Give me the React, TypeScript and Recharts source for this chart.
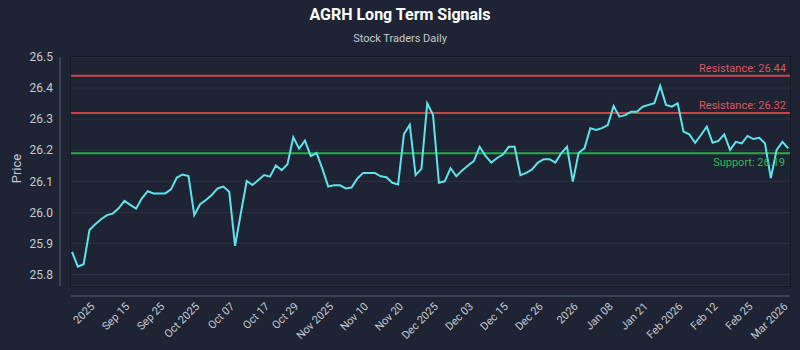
import React from 'react';
import { LineChart, Line, XAxis, YAxis, CartesianGrid, ReferenceLine, usePlotArea } from 'recharts';

const TITLE = 'AGRH Long Term Signals';
const SUBTITLE = 'Stock Traders Daily';
const Y_LABEL = 'Price';

const prices = [
  25.873, 25.825, 25.833, 25.943, 25.962, 25.978, 25.991, 25.996, 26.013, 26.037,
  26.024, 26.012, 26.045, 26.068, 26.061, 26.061, 26.061, 26.074, 26.112, 26.122,
  26.117, 25.991, 26.026, 26.040, 26.056, 26.077, 26.083, 26.066, 25.892, 25.998,
  26.101, 26.088, 26.104, 26.120, 26.115, 26.151, 26.136, 26.155, 26.242, 26.205,
  26.231, 26.181, 26.191, 26.140, 26.083, 26.087, 26.087, 26.077, 26.080, 26.109,
  26.127, 26.127, 26.127, 26.116, 26.113, 26.095, 26.090, 26.252, 26.282, 26.120,
  26.140, 26.351, 26.313, 26.095, 26.100, 26.142, 26.116, 26.135, 26.151, 26.165,
  26.211, 26.182, 26.160, 26.175, 26.186, 26.211, 26.211, 26.120, 26.127, 26.138,
  26.160, 26.171, 26.171, 26.160, 26.190, 26.211, 26.099, 26.192, 26.206, 26.271,
  26.265, 26.271, 26.281, 26.342, 26.308, 26.313, 26.324, 26.324, 26.340, 26.346,
  26.351, 26.407, 26.346, 26.340, 26.351, 26.260, 26.251, 26.224, 26.249, 26.276,
  26.224, 26.230, 26.251, 26.201, 26.227, 26.222, 26.246, 26.236, 26.240, 26.222,
  26.110, 26.201, 26.227, 26.206,
];

const tickIndices = [4, 10, 16, 22, 28, 34, 39, 45, 51, 57, 63, 69, 75, 81, 87, 93, 99, 105, 111, 117, 123];
const tickLabels = [
  '2025', 'Sep 15', 'Sep 25', 'Oct 2025', 'Oct 07', 'Oct 17', 'Oct 29', 'Nov 2025', 'Nov 10', 'Nov 20',
  'Dec 2025', 'Dec 03', 'Dec 15', 'Dec 26', '2026', 'Jan 08', 'Jan 21', 'Feb 2026', 'Feb 12', 'Feb 25', 'Mar 2026',
];
const yTicks = [25.8, 25.9, 26.0, 26.1, 26.2, 26.3, 26.4, 26.5];
const yDomain = [25.763, 26.5];
const resistanceLevels = [26.44, 26.32];
const supportLevels = [26.19];

const data = prices.map((price, i) => ({ i, price }));
const labelByIndex = new Map<number, string>(tickIndices.map((idx, k) => [idx, tickLabels[k]]));

const BG = '#1e2433';
const GRID = '#2a3242';
const AXIS = '#596070';
const TEXT = '#c5cad3';
const LINE = '#5fe3ea';
const RES = '#c8454d';
const RES_TEXT = '#db5860';
const SUP = '#2fa650';
const SUP_TEXT = '#38b55a';

function XTick(props: any) {
  const { x, y, payload } = props;
  const label = labelByIndex.get(payload.value) ?? '';
  const tx = x;
  const ty = y + 13;
  return (
    <text x={tx} y={ty} transform={`rotate(-45, ${tx}, ${ty})`} textAnchor="end" fill={TEXT} fontSize={11}>
      {label}
    </text>
  );
}

function Frame() {
  const a = usePlotArea();
  if (!a) return null;
  const { x, y, width, height } = a;
  return (
    <g>
      <rect x={x - 0.5} y={y - 0.5} width={width + 1} height={height + 1} fill="none" stroke="#141923" strokeWidth={1} />
      <line x1={x - 11} x2={x - 11} y1={y} y2={y + height} stroke={AXIS} strokeWidth={1} />
      <line x1={x} x2={x + width} y1={y + height + 10} y2={y + height + 10} stroke={AXIS} strokeWidth={1} />
      <text
        x={16}
        y={y + height / 2 - 3}
        transform={`rotate(-90, 16, ${y + height / 2 - 3})`}
        textAnchor="middle"
        dominantBaseline="central"
        fill={TEXT}
        fontSize={13}
      >
        {Y_LABEL}
      </text>
    </g>
  );
}

export default function App() {
  return (
    <div
      style={{
        position: 'absolute',
        left: 0,
        top: 0,
        width: 800,
        height: 350,
        background: BG,
        fontFamily: 'Roboto, "Noto Sans", sans-serif',
      }}
    >
      <svg width={800} height={50} style={{ position: 'absolute', left: 0, top: 0 }}>
        <text x={400} y={19.5} textAnchor="middle" fill="#ffffff" fontSize={16} fontWeight="bold">
          {TITLE}
        </text>
        <text x={400} y={41.5} textAnchor="middle" fill={TEXT} fontSize={11}>
          {SUBTITLE}
        </text>
      </svg>
      <div style={{ position: 'absolute', left: 0, top: 0 }}>
        <LineChart width={800} height={350} data={data} margin={{ top: 57, right: 10, bottom: 0, left: 0 }}>
          <CartesianGrid vertical={false} stroke={GRID} />
          <XAxis
            dataKey="i"
            type="category"
            ticks={tickIndices}
            interval={0}
            tick={<XTick />}
            axisLine={false}
            tickLine={false}
            height={64}
            padding={{ left: 1, right: 1.7 }}
          />
          <YAxis
            domain={yDomain}
            ticks={yTicks}
            interval={0}
            tickFormatter={(v: number) => v.toFixed(1)}
            tick={{ fill: TEXT, fontSize: 12 }}
            width={71}
            tickMargin={12}
            axisLine={false}
            tickLine={false}
          />
          <Frame />
          {resistanceLevels.map((v) => (
            <ReferenceLine
              key={`r${v}`}
              y={v}
              stroke={RES}
              strokeWidth={2}
              label={{ value: `Resistance: ${v.toFixed(2)}`, position: 'insideBottomRight', fill: RES_TEXT, fontSize: 11, offset: 4 }}
            />
          ))}
          {supportLevels.map((v) => (
            <ReferenceLine
              key={`s${v}`}
              y={v}
              stroke={SUP}
              strokeWidth={2}
              label={{ value: `Support: ${v.toFixed(2)}`, position: 'insideTopRight', fill: SUP_TEXT, fontSize: 11, offset: 5 }}
            />
          ))}
          <Line type="linear" dataKey="price" stroke={LINE} strokeWidth={2} dot={false} isAnimationActive={false} />
        </LineChart>
      </div>
    </div>
  );
}
